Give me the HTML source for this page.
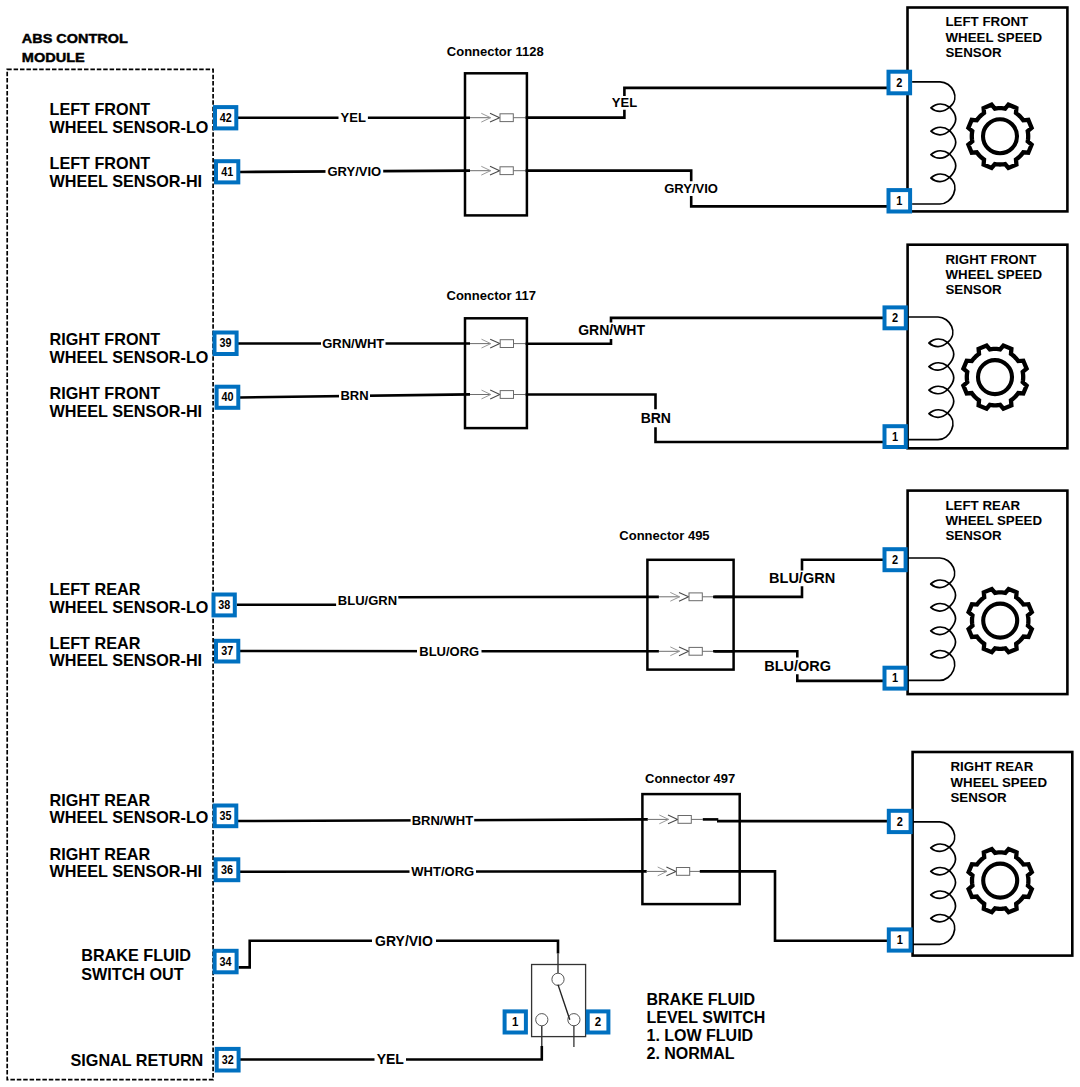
<!DOCTYPE html>
<html><head><meta charset="utf-8"><title>ABS Wheel Speed Sensor Wiring</title>
<style>
html,body{margin:0;padding:0;background:#fff;}
body{width:1080px;height:1087px;overflow:hidden;font-family:"Liberation Sans",sans-serif;}
svg{display:block;}
text{fill:#000;}
</style></head><body>
<svg width="1080" height="1087" viewBox="0 0 1080 1087" font-family="Liberation Sans, sans-serif">
<rect width="1080" height="1087" fill="#fff"/>
<text x="21.8" y="42.9" font-size="13" font-weight="bold" textLength="106" lengthAdjust="spacingAndGlyphs" stroke="#000" stroke-width="0.45">ABS CONTROL</text>
<text x="21.8" y="61.6" font-size="13" font-weight="bold" textLength="63" lengthAdjust="spacingAndGlyphs" stroke="#000" stroke-width="0.45">MODULE</text>
<rect x="7.2" y="69.4" width="205.9" height="1010.3" fill="none" stroke="#000" stroke-width="1.7" stroke-dasharray="4.5 1.9"/>
<text x="49.5" y="114.9" font-size="16.2" font-weight="bold" text-anchor="start" >LEFT FRONT</text>
<text x="49.5" y="132.8" font-size="16.2" font-weight="bold" text-anchor="start" >WHEEL SENSOR-LO</text>
<text x="49.5" y="168.9" font-size="16.2" font-weight="bold" text-anchor="start" >LEFT FRONT</text>
<text x="49.5" y="186.9" font-size="16.2" font-weight="bold" text-anchor="start" >WHEEL SENSOR-HI</text>
<text x="49.5" y="345" font-size="16.2" font-weight="bold" text-anchor="start" >RIGHT FRONT</text>
<text x="49.5" y="362.9" font-size="16.2" font-weight="bold" text-anchor="start" >WHEEL SENSOR-LO</text>
<text x="49.5" y="399.3" font-size="16.2" font-weight="bold" text-anchor="start" >RIGHT FRONT</text>
<text x="49.5" y="417.3" font-size="16.2" font-weight="bold" text-anchor="start" >WHEEL SENSOR-HI</text>
<text x="49.5" y="594.7" font-size="16.2" font-weight="bold" text-anchor="start" >LEFT REAR</text>
<text x="49.5" y="612.5" font-size="16.2" font-weight="bold" text-anchor="start" >WHEEL SENSOR-LO</text>
<text x="49.5" y="648.8" font-size="16.2" font-weight="bold" text-anchor="start" >LEFT REAR</text>
<text x="49.5" y="666.3" font-size="16.2" font-weight="bold" text-anchor="start" >WHEEL SENSOR-HI</text>
<text x="49.5" y="805.7" font-size="16.2" font-weight="bold" text-anchor="start" >RIGHT REAR</text>
<text x="49.5" y="823.3" font-size="16.2" font-weight="bold" text-anchor="start" >WHEEL SENSOR-LO</text>
<text x="49.5" y="859.5" font-size="16.2" font-weight="bold" text-anchor="start" >RIGHT REAR</text>
<text x="49.5" y="876.8" font-size="16.2" font-weight="bold" text-anchor="start" >WHEEL SENSOR-HI</text>
<text x="81.2" y="961.3" font-size="16.2" font-weight="bold" text-anchor="start" >BRAKE FLUID</text>
<text x="81.2" y="979.6" font-size="16.2" font-weight="bold" text-anchor="start" >SWITCH OUT</text>
<text x="70.5" y="1065.7" font-size="16.2" font-weight="bold" text-anchor="start" >SIGNAL RETURN</text>
<line x1="238" y1="117.8" x2="470" y2="117.8" stroke="#000" stroke-width="2.6"/>
<rect x="338.5" y="110.8" width="29.4" height="14" fill="#fff"/>
<text x="353.2" y="122.27" font-size="13" font-weight="bold" text-anchor="middle" >YEL</text>
<line x1="240" y1="172" x2="470" y2="170.6" stroke="#000" stroke-width="2.6"/>
<rect x="325.5" y="164.3" width="57.7" height="14" fill="#fff"/>
<text x="354.35" y="175.77" font-size="13" font-weight="bold" text-anchor="middle" >GRY/VIO</text>
<rect x="465" y="73.3" width="61.9" height="142.1" fill="none" stroke="#000" stroke-width="2.5"/>
<text x="446.8" y="56.2" font-size="13" font-weight="bold" text-anchor="start" >Connector 1128</text>
<line x1="470" y1="117.7" x2="490.6" y2="117.7" stroke="#6e6e6e" stroke-width="1.0"/>
<polyline points="481.3,113.3 490.6,117.7 481.3,122.1" fill="none" stroke="#9a9a9a" stroke-width="1.0" stroke-linejoin="miter" stroke-linecap="butt"/>
<polyline points="490,113.3 499.6,117.7 490,122.1" fill="none" stroke="#4a4a4a" stroke-width="1.1" stroke-linejoin="miter" stroke-linecap="butt"/>
<rect x="500" y="113.8" width="13.3" height="7.8" fill="#fff" stroke="#6a6a6a" stroke-width="1.0"/>
<line x1="513.3" y1="117.7" x2="526.9" y2="117.7" stroke="#6e6e6e" stroke-width="1.0"/>
<line x1="470" y1="170.7" x2="490.6" y2="170.7" stroke="#6e6e6e" stroke-width="1.0"/>
<polyline points="481.3,166.3 490.6,170.7 481.3,175.1" fill="none" stroke="#9a9a9a" stroke-width="1.0" stroke-linejoin="miter" stroke-linecap="butt"/>
<polyline points="490,166.3 499.6,170.7 490,175.1" fill="none" stroke="#4a4a4a" stroke-width="1.1" stroke-linejoin="miter" stroke-linecap="butt"/>
<rect x="500" y="166.8" width="13.3" height="7.8" fill="#fff" stroke="#6a6a6a" stroke-width="1.0"/>
<line x1="513.3" y1="170.7" x2="526.9" y2="170.7" stroke="#6e6e6e" stroke-width="1.0"/>
<polyline points="526.9,117.6 624.4,117.6 624.4,111" fill="none" stroke="#000" stroke-width="2.6" stroke-linejoin="miter" stroke-linecap="square"/>
<polyline points="624.4,94.6 624.4,87.9 886.6,87.9" fill="none" stroke="#000" stroke-width="2.6" stroke-linejoin="miter" stroke-linecap="square"/>
<text x="624.5" y="107.4" font-size="13" font-weight="bold" text-anchor="middle" >YEL</text>
<polyline points="526.9,170.6 691.2,170.6 691.2,180" fill="none" stroke="#000" stroke-width="2.6" stroke-linejoin="miter" stroke-linecap="square"/>
<polyline points="691.2,197.4 691.2,206.4 886.6,206.4" fill="none" stroke="#000" stroke-width="2.6" stroke-linejoin="miter" stroke-linecap="square"/>
<text x="691.1" y="193.3" font-size="13" font-weight="bold" text-anchor="middle" >GRY/VIO</text>
<line x1="238" y1="343.5" x2="470" y2="343.5" stroke="#000" stroke-width="2.6"/>
<rect x="321" y="336.5" width="64.5" height="14" fill="#fff"/>
<text x="353.25" y="347.97" font-size="13" font-weight="bold" text-anchor="middle" >GRN/WHT</text>
<line x1="240" y1="397.5" x2="470" y2="394.4" stroke="#000" stroke-width="2.6"/>
<rect x="339" y="389" width="31" height="14" fill="#fff"/>
<text x="354.5" y="400.47" font-size="13" font-weight="bold" text-anchor="middle" >BRN</text>
<rect x="465" y="318.3" width="61.9" height="109.8" fill="none" stroke="#000" stroke-width="2.5"/>
<text x="446.5" y="299.5" font-size="13" font-weight="bold" text-anchor="start" >Connector 117</text>
<line x1="470" y1="343.6" x2="490.8" y2="343.6" stroke="#6e6e6e" stroke-width="1.0"/>
<polyline points="481.5,339.2 490.8,343.6 481.5,348" fill="none" stroke="#9a9a9a" stroke-width="1.0" stroke-linejoin="miter" stroke-linecap="butt"/>
<polyline points="490.2,339.2 499.8,343.6 490.2,348" fill="none" stroke="#4a4a4a" stroke-width="1.1" stroke-linejoin="miter" stroke-linecap="butt"/>
<rect x="500.2" y="339.7" width="13.3" height="7.8" fill="#fff" stroke="#6a6a6a" stroke-width="1.0"/>
<line x1="513.5" y1="343.6" x2="526.9" y2="343.6" stroke="#6e6e6e" stroke-width="1.0"/>
<line x1="470" y1="394.5" x2="490.8" y2="394.5" stroke="#6e6e6e" stroke-width="1.0"/>
<polyline points="481.5,390.1 490.8,394.5 481.5,398.9" fill="none" stroke="#9a9a9a" stroke-width="1.0" stroke-linejoin="miter" stroke-linecap="butt"/>
<polyline points="490.2,390.1 499.8,394.5 490.2,398.9" fill="none" stroke="#4a4a4a" stroke-width="1.1" stroke-linejoin="miter" stroke-linecap="butt"/>
<rect x="500.2" y="390.6" width="13.3" height="7.8" fill="#fff" stroke="#6a6a6a" stroke-width="1.0"/>
<line x1="513.5" y1="394.5" x2="526.9" y2="394.5" stroke="#6e6e6e" stroke-width="1.0"/>
<polyline points="526.9,343.8 611,343.8 611,340.4" fill="none" stroke="#000" stroke-width="2.6" stroke-linejoin="miter" stroke-linecap="square"/>
<polyline points="611,321.2 611,317.9 882.5,317.9" fill="none" stroke="#000" stroke-width="2.6" stroke-linejoin="miter" stroke-linecap="square"/>
<text x="611.6" y="335.4" font-size="14" font-weight="bold" text-anchor="middle" >GRN/WHT</text>
<polyline points="526.9,394.5 655.5,394.5 655.5,408" fill="none" stroke="#000" stroke-width="2.6" stroke-linejoin="miter" stroke-linecap="square"/>
<polyline points="655.5,428.5 655.5,442 882.5,442" fill="none" stroke="#000" stroke-width="2.6" stroke-linejoin="miter" stroke-linecap="square"/>
<text x="655.8" y="423" font-size="14" font-weight="bold" text-anchor="middle" >BRN</text>
<polyline points="236.8,604.7 336.1,604.7" fill="none" stroke="#000" stroke-width="2.6" stroke-linejoin="miter" stroke-linecap="butt"/>
<text x="337.8" y="605.3" font-size="13" font-weight="bold" text-anchor="start" >BLU/GRN</text>
<line x1="398.3" y1="597.2" x2="658.9" y2="596.9" stroke="#000" stroke-width="2.6"/>
<line x1="240" y1="651" x2="658.9" y2="651.3" stroke="#000" stroke-width="2.6"/>
<rect x="417" y="644.2" width="64.5" height="14" fill="#fff"/>
<text x="449.25" y="655.67" font-size="13" font-weight="bold" text-anchor="middle" >BLU/ORG</text>
<rect x="647.4" y="559.8" width="86.2" height="109.8" fill="none" stroke="#000" stroke-width="2.5"/>
<text x="619.3" y="540.2" font-size="13" font-weight="bold" text-anchor="start" >Connector 495</text>
<line x1="658.9" y1="596.8" x2="679.6" y2="596.8" stroke="#6e6e6e" stroke-width="1.0"/>
<polyline points="670.3,592.4 679.6,596.8 670.3,601.2" fill="none" stroke="#9a9a9a" stroke-width="1.0" stroke-linejoin="miter" stroke-linecap="butt"/>
<polyline points="679,592.4 688.6,596.8 679,601.2" fill="none" stroke="#4a4a4a" stroke-width="1.1" stroke-linejoin="miter" stroke-linecap="butt"/>
<rect x="689" y="592.9" width="13.3" height="7.8" fill="#fff" stroke="#6a6a6a" stroke-width="1.0"/>
<line x1="702.3" y1="596.8" x2="714.4" y2="596.8" stroke="#6e6e6e" stroke-width="1.0"/>
<line x1="658.9" y1="651.3" x2="679.6" y2="651.3" stroke="#6e6e6e" stroke-width="1.0"/>
<polyline points="670.3,646.9 679.6,651.3 670.3,655.7" fill="none" stroke="#9a9a9a" stroke-width="1.0" stroke-linejoin="miter" stroke-linecap="butt"/>
<polyline points="679,646.9 688.6,651.3 679,655.7" fill="none" stroke="#4a4a4a" stroke-width="1.1" stroke-linejoin="miter" stroke-linecap="butt"/>
<rect x="689" y="647.4" width="13.3" height="7.8" fill="#fff" stroke="#6a6a6a" stroke-width="1.0"/>
<line x1="702.3" y1="651.3" x2="714.4" y2="651.3" stroke="#6e6e6e" stroke-width="1.0"/>
<line x1="714.4" y1="596.9" x2="733.6" y2="596.9" stroke="#000" stroke-width="2.6"/>
<line x1="714.4" y1="651.3" x2="733.6" y2="651.3" stroke="#000" stroke-width="2.6"/>
<polyline points="714.4,596.9 802,596.9 802,587.6" fill="none" stroke="#000" stroke-width="2.6" stroke-linejoin="miter" stroke-linecap="square"/>
<polyline points="802,569.3 802,559.7 882.5,559.7" fill="none" stroke="#000" stroke-width="2.6" stroke-linejoin="miter" stroke-linecap="square"/>
<text x="802.1" y="583.2" font-size="14.5" font-weight="bold" text-anchor="middle" >BLU/GRN</text>
<polyline points="714.4,651.3 797.3,651.3 797.3,656.2" fill="none" stroke="#000" stroke-width="2.6" stroke-linejoin="miter" stroke-linecap="square"/>
<polyline points="797.3,675.5 797.3,680.9 882.5,680.9" fill="none" stroke="#000" stroke-width="2.6" stroke-linejoin="miter" stroke-linecap="square"/>
<text x="797.6" y="670.8" font-size="14.5" font-weight="bold" text-anchor="middle" >BLU/ORG</text>
<line x1="238" y1="821" x2="647.8" y2="819.4" stroke="#000" stroke-width="2.6"/>
<rect x="410.6" y="813.6" width="63.6" height="14" fill="#fff"/>
<text x="442.4" y="825.07" font-size="13" font-weight="bold" text-anchor="middle" >BRN/WHT</text>
<line x1="240" y1="871.7" x2="646.7" y2="871.4" stroke="#000" stroke-width="2.6"/>
<rect x="409.5" y="864.6" width="66.5" height="14" fill="#fff"/>
<text x="442.75" y="876.07" font-size="13" font-weight="bold" text-anchor="middle" >WHT/ORG</text>
<rect x="642.4" y="794.1" width="97.3" height="110" fill="none" stroke="#000" stroke-width="2.5"/>
<text x="645" y="783.4" font-size="13" font-weight="bold" text-anchor="start" >Connector 497</text>
<line x1="647.8" y1="819.4" x2="668.6" y2="819.4" stroke="#6e6e6e" stroke-width="1.0"/>
<polyline points="659.3,815 668.6,819.4 659.3,823.8" fill="none" stroke="#9a9a9a" stroke-width="1.0" stroke-linejoin="miter" stroke-linecap="butt"/>
<polyline points="668,815 677.6,819.4 668,823.8" fill="none" stroke="#4a4a4a" stroke-width="1.1" stroke-linejoin="miter" stroke-linecap="butt"/>
<rect x="678" y="815.5" width="13.3" height="7.8" fill="#fff" stroke="#6a6a6a" stroke-width="1.0"/>
<line x1="691.3" y1="819.4" x2="702.8" y2="819.4" stroke="#6e6e6e" stroke-width="1.0"/>
<line x1="646.7" y1="871.4" x2="667" y2="871.4" stroke="#6e6e6e" stroke-width="1.0"/>
<polyline points="657.7,867 667,871.4 657.7,875.8" fill="none" stroke="#9a9a9a" stroke-width="1.0" stroke-linejoin="miter" stroke-linecap="butt"/>
<polyline points="666.4,867 676,871.4 666.4,875.8" fill="none" stroke="#4a4a4a" stroke-width="1.1" stroke-linejoin="miter" stroke-linecap="butt"/>
<rect x="676.4" y="867.5" width="13.3" height="7.8" fill="#fff" stroke="#6a6a6a" stroke-width="1.0"/>
<line x1="689.7" y1="871.4" x2="701.1" y2="871.4" stroke="#6e6e6e" stroke-width="1.0"/>
<line x1="702.8" y1="819.4" x2="718.3" y2="819.4" stroke="#000" stroke-width="2.6"/>
<line x1="717" y1="821.1" x2="887.7" y2="821.1" stroke="#000" stroke-width="2.6"/>
<polyline points="701.1,871.4 775,871.4 775,940.7 887.7,940.7" fill="none" stroke="#000" stroke-width="2.6" stroke-linejoin="miter" stroke-linecap="square"/>
<polyline points="238.6,967.4 249.7,967.4 249.7,940.7 558,940.7 558,953.5" fill="none" stroke="#000" stroke-width="2.6" stroke-linejoin="miter" stroke-linecap="butt"/>
<rect x="372" y="933.7" width="64" height="14" fill="#fff"/>
<text x="404" y="945.52" font-size="14" font-weight="bold" text-anchor="middle" >GRY/VIO</text>
<line x1="558" y1="953.5" x2="558" y2="973.2" stroke="#222" stroke-width="1.3"/>
<polyline points="240,1059.5 541.8,1059.5 541.8,1046" fill="none" stroke="#000" stroke-width="2.6" stroke-linejoin="miter" stroke-linecap="butt"/>
<rect x="374.5" y="1052.5" width="31.5" height="14" fill="#fff"/>
<text x="390.25" y="1064.32" font-size="14" font-weight="bold" text-anchor="middle" >YEL</text>
<line x1="541.8" y1="1046" x2="541.8" y2="1026" stroke="#222" stroke-width="1.3"/>
<rect x="531.6" y="964.5" width="54" height="72.1" fill="none" stroke="#333" stroke-width="1.3"/>
<circle cx="558" cy="979.3" r="6.1" fill="#fff" stroke="#555" stroke-width="1.0"/>
<circle cx="541.8" cy="1019.7" r="6.1" fill="#fff" stroke="#555" stroke-width="1.0"/>
<circle cx="573.9" cy="1019.7" r="6.1" fill="#fff" stroke="#555" stroke-width="1.0"/>
<line x1="558" y1="984.6" x2="569.8" y2="1019.7" stroke="#222" stroke-width="1.4"/>
<line x1="573.9" y1="1025.8" x2="573.9" y2="1047" stroke="#333" stroke-width="1.3"/>
<text x="646.5" y="1004.7" font-size="16" font-weight="bold" text-anchor="start" >BRAKE FLUID</text>
<text x="646.5" y="1022.9" font-size="16" font-weight="bold" text-anchor="start" >LEVEL SWITCH</text>
<text x="646.5" y="1041.1" font-size="16" font-weight="bold" text-anchor="start" >1. LOW FLUID</text>
<text x="646.5" y="1059.3" font-size="16" font-weight="bold" text-anchor="start" >2. NORMAL</text>
<rect x="907.5" y="7.5" width="159.9" height="203.9" fill="none" stroke="#000" stroke-width="2.6"/>
<text x="945.5" y="26.4" font-size="13.3" font-weight="bold" text-anchor="start" >LEFT FRONT</text>
<text x="945.5" y="41.6" font-size="13.3" font-weight="bold" text-anchor="start" >WHEEL SPEED</text>
<text x="945.5" y="56.8" font-size="13.3" font-weight="bold" text-anchor="start" >SENSOR</text>
<path d="M912.10,81.80 L940.00,81.80 C952.00,81.80 961.10,98.20 949.60,107.20 C943.60,112.60 936.50,112.80 930.90,107.80 C936.50,102.90 943.60,102.80 949.60,107.20 C957.80,115.70 957.80,122.10 949.60,130.60 C943.60,136.00 936.50,136.20 930.90,131.20 C936.50,126.30 943.60,126.20 949.60,130.60 C957.80,139.10 957.80,145.50 949.60,154.00 C943.60,159.40 936.50,159.60 930.90,154.60 C936.50,149.70 943.60,149.60 949.60,154.00 C957.80,162.50 957.80,168.90 949.60,177.40 C943.60,182.80 936.50,183.00 930.90,178.00 C936.50,173.10 943.60,173.00 949.60,177.40 C961.10,186.40 952.00,204.00 940.00,204.00 L912.10,204.00" fill="none" stroke="#000" stroke-width="1.7" stroke-linejoin="round"/>
<path d="M1005.14,108.57 L1008.41,104.70 L1016.40,108.01 L1015.97,113.06 L1017.36,114.08 L1018.69,115.18 L1019.94,116.36 L1021.12,117.61 L1022.22,118.94 L1023.24,120.33 L1028.29,119.90 L1031.60,127.89 L1027.73,131.16 L1027.99,132.86 L1028.15,134.58 L1028.20,136.30 L1028.15,138.02 L1027.99,139.74 L1027.73,141.44 L1031.60,144.71 L1028.29,152.70 L1023.24,152.27 L1022.22,153.66 L1021.12,154.99 L1019.94,156.24 L1018.69,157.42 L1017.36,158.52 L1015.97,159.54 L1016.40,164.59 L1008.41,167.90 L1005.14,164.03 L1003.44,164.29 L1001.72,164.45 L1000.00,164.50 L998.28,164.45 L996.56,164.29 L994.86,164.03 L991.59,167.90 L983.60,164.59 L984.03,159.54 L982.64,158.52 L981.31,157.42 L980.06,156.24 L978.88,154.99 L977.78,153.66 L976.76,152.27 L971.71,152.70 L968.40,144.71 L972.27,141.44 L972.01,139.74 L971.85,138.02 L971.80,136.30 L971.85,134.58 L972.01,132.86 L972.27,131.16 L968.40,127.89 L971.71,119.90 L976.76,120.33 L977.78,118.94 L978.88,117.61 L980.06,116.36 L981.31,115.18 L982.64,114.08 L984.03,113.06 L983.60,108.01 L991.59,104.70 L994.86,108.57 L996.56,108.31 L998.28,108.15 L1000.00,108.10 L1001.72,108.15 L1003.44,108.31Z" fill="none" stroke="#000" stroke-width="4.3" stroke-linejoin="miter"/>
<circle cx="1000" cy="136.3" r="17" fill="none" stroke="#000" stroke-width="4.1"/>
<rect x="888.5" y="71.7" width="21.6" height="21.6" fill="#fff" stroke="#0070C0" stroke-width="4.0"/>
<text transform="translate(899.3 86.66) scale(1.0 1.1)" font-size="11" font-weight="bold" text-anchor="middle" >2</text>
<rect x="888.5" y="190.1" width="21.6" height="21.4" fill="#fff" stroke="#0070C0" stroke-width="4.0"/>
<text transform="translate(899.3 204.96) scale(1.0 1.1)" font-size="11" font-weight="bold" text-anchor="middle" >1</text>
<rect x="907.6" y="244.7" width="159.8" height="203.6" fill="none" stroke="#000" stroke-width="2.6"/>
<text x="945.5" y="263.7" font-size="13.3" font-weight="bold" text-anchor="start" >RIGHT FRONT</text>
<text x="945.5" y="278.9" font-size="13.3" font-weight="bold" text-anchor="start" >WHEEL SPEED</text>
<text x="945.5" y="294.1" font-size="13.3" font-weight="bold" text-anchor="start" >SENSOR</text>
<path d="M908.30,317.00 L938.00,317.00 C950.00,317.00 959.10,333.40 947.60,342.40 C941.60,347.80 934.50,348.00 928.90,343.00 C934.50,338.10 941.60,338.00 947.60,342.40 C955.80,350.90 955.80,357.47 947.60,365.97 C941.60,371.37 934.50,371.57 928.90,366.57 C934.50,361.67 941.60,361.57 947.60,365.97 C955.80,374.47 955.80,381.03 947.60,389.53 C941.60,394.93 934.50,395.13 928.90,390.13 C934.50,385.23 941.60,385.13 947.60,389.53 C955.80,398.03 955.80,404.60 947.60,413.10 C941.60,418.50 934.50,418.70 928.90,413.70 C934.50,408.80 941.60,408.70 947.60,413.10 C959.10,422.10 950.00,439.70 938.00,439.70 L908.30,439.70" fill="none" stroke="#000" stroke-width="1.7" stroke-linejoin="round"/>
<path d="M1000.14,349.37 L1003.41,345.50 L1011.40,348.81 L1010.97,353.86 L1012.36,354.88 L1013.69,355.98 L1014.94,357.16 L1016.12,358.41 L1017.22,359.74 L1018.24,361.13 L1023.29,360.70 L1026.60,368.69 L1022.73,371.96 L1022.99,373.66 L1023.15,375.38 L1023.20,377.10 L1023.15,378.82 L1022.99,380.54 L1022.73,382.24 L1026.60,385.51 L1023.29,393.50 L1018.24,393.07 L1017.22,394.46 L1016.12,395.79 L1014.94,397.04 L1013.69,398.22 L1012.36,399.32 L1010.97,400.34 L1011.40,405.39 L1003.41,408.70 L1000.14,404.83 L998.44,405.09 L996.72,405.25 L995.00,405.30 L993.28,405.25 L991.56,405.09 L989.86,404.83 L986.59,408.70 L978.60,405.39 L979.03,400.34 L977.64,399.32 L976.31,398.22 L975.06,397.04 L973.88,395.79 L972.78,394.46 L971.76,393.07 L966.71,393.50 L963.40,385.51 L967.27,382.24 L967.01,380.54 L966.85,378.82 L966.80,377.10 L966.85,375.38 L967.01,373.66 L967.27,371.96 L963.40,368.69 L966.71,360.70 L971.76,361.13 L972.78,359.74 L973.88,358.41 L975.06,357.16 L976.31,355.98 L977.64,354.88 L979.03,353.86 L978.60,348.81 L986.59,345.50 L989.86,349.37 L991.56,349.11 L993.28,348.95 L995.00,348.90 L996.72,348.95 L998.44,349.11Z" fill="none" stroke="#000" stroke-width="4.3" stroke-linejoin="miter"/>
<circle cx="995" cy="377.1" r="17" fill="none" stroke="#000" stroke-width="4.1"/>
<rect x="884.5" y="307.4" width="21.3" height="20.9" fill="#fff" stroke="#0070C0" stroke-width="4.0"/>
<text transform="translate(895.15 322.01) scale(1.0 1.1)" font-size="11" font-weight="bold" text-anchor="middle" >2</text>
<rect x="884.5" y="426.2" width="21.3" height="20.8" fill="#fff" stroke="#0070C0" stroke-width="4.0"/>
<text transform="translate(895.15 440.76) scale(1.0 1.1)" font-size="11" font-weight="bold" text-anchor="middle" >1</text>
<rect x="907.6" y="490.6" width="159.8" height="203.5" fill="none" stroke="#000" stroke-width="2.6"/>
<text x="945.5" y="509.7" font-size="13.3" font-weight="bold" text-anchor="start" >LEFT REAR</text>
<text x="945.5" y="524.9" font-size="13.3" font-weight="bold" text-anchor="start" >WHEEL SPEED</text>
<text x="945.5" y="540.1" font-size="13.3" font-weight="bold" text-anchor="start" >SENSOR</text>
<path d="M907.60,558.00 L939.80,558.00 C951.80,558.00 960.90,574.40 949.40,583.40 C943.40,588.80 936.30,589.00 930.70,584.00 C936.30,579.10 943.40,579.00 949.40,583.40 C957.60,591.90 957.60,598.37 949.40,606.87 C943.40,612.27 936.30,612.47 930.70,607.47 C936.30,602.57 943.40,602.47 949.40,606.87 C957.60,615.37 957.60,621.83 949.40,630.33 C943.40,635.73 936.30,635.93 930.70,630.93 C936.30,626.03 943.40,625.93 949.40,630.33 C957.60,638.83 957.60,645.30 949.40,653.80 C943.40,659.20 936.30,659.40 930.70,654.40 C936.30,649.50 943.40,649.40 949.40,653.80 C960.90,662.80 951.80,680.40 939.80,680.40 L907.60,680.40" fill="none" stroke="#000" stroke-width="1.7" stroke-linejoin="round"/>
<path d="M1005.34,592.87 L1008.61,589.00 L1016.60,592.31 L1016.17,597.36 L1017.56,598.38 L1018.89,599.48 L1020.14,600.66 L1021.32,601.91 L1022.42,603.24 L1023.44,604.63 L1028.49,604.20 L1031.80,612.19 L1027.93,615.46 L1028.19,617.16 L1028.35,618.88 L1028.40,620.60 L1028.35,622.32 L1028.19,624.04 L1027.93,625.74 L1031.80,629.01 L1028.49,637.00 L1023.44,636.57 L1022.42,637.96 L1021.32,639.29 L1020.14,640.54 L1018.89,641.72 L1017.56,642.82 L1016.17,643.84 L1016.60,648.89 L1008.61,652.20 L1005.34,648.33 L1003.64,648.59 L1001.92,648.75 L1000.20,648.80 L998.48,648.75 L996.76,648.59 L995.06,648.33 L991.79,652.20 L983.80,648.89 L984.23,643.84 L982.84,642.82 L981.51,641.72 L980.26,640.54 L979.08,639.29 L977.98,637.96 L976.96,636.57 L971.91,637.00 L968.60,629.01 L972.47,625.74 L972.21,624.04 L972.05,622.32 L972.00,620.60 L972.05,618.88 L972.21,617.16 L972.47,615.46 L968.60,612.19 L971.91,604.20 L976.96,604.63 L977.98,603.24 L979.08,601.91 L980.26,600.66 L981.51,599.48 L982.84,598.38 L984.23,597.36 L983.80,592.31 L991.79,589.00 L995.06,592.87 L996.76,592.61 L998.48,592.45 L1000.20,592.40 L1001.92,592.45 L1003.64,592.61Z" fill="none" stroke="#000" stroke-width="4.3" stroke-linejoin="miter"/>
<circle cx="1000.2" cy="620.6" r="17" fill="none" stroke="#000" stroke-width="4.1"/>
<rect x="884.5" y="549.2" width="21.1" height="21" fill="#fff" stroke="#0070C0" stroke-width="4.0"/>
<text transform="translate(895.05 563.86) scale(1.0 1.1)" font-size="11" font-weight="bold" text-anchor="middle" >2</text>
<rect x="884.5" y="667.7" width="21.1" height="20.9" fill="#fff" stroke="#0070C0" stroke-width="4.0"/>
<text transform="translate(895.05 682.31) scale(1.0 1.1)" font-size="11" font-weight="bold" text-anchor="middle" >1</text>
<rect x="912.6" y="752" width="159.7" height="203.6" fill="none" stroke="#000" stroke-width="2.6"/>
<text x="950.5" y="771.4" font-size="13.3" font-weight="bold" text-anchor="start" >RIGHT REAR</text>
<text x="950.5" y="786.6" font-size="13.3" font-weight="bold" text-anchor="start" >WHEEL SPEED</text>
<text x="950.5" y="801.8" font-size="13.3" font-weight="bold" text-anchor="start" >SENSOR</text>
<path d="M912.60,821.80 L939.80,821.80 C951.80,821.80 960.90,838.20 949.40,847.20 C943.40,852.60 936.30,852.80 930.70,847.80 C936.30,842.90 943.40,842.80 949.40,847.20 C957.60,855.70 957.60,862.20 949.40,870.70 C943.40,876.10 936.30,876.30 930.70,871.30 C936.30,866.40 943.40,866.30 949.40,870.70 C957.60,879.20 957.60,885.70 949.40,894.20 C943.40,899.60 936.30,899.80 930.70,894.80 C936.30,889.90 943.40,889.80 949.40,894.20 C957.60,902.70 957.60,909.20 949.40,917.70 C943.40,923.10 936.30,923.30 930.70,918.30 C936.30,913.40 943.40,913.30 949.40,917.70 C960.90,926.70 951.80,944.30 939.80,944.30 L912.60,944.30" fill="none" stroke="#000" stroke-width="1.7" stroke-linejoin="round"/>
<path d="M1005.34,852.87 L1008.61,849.00 L1016.60,852.31 L1016.17,857.36 L1017.56,858.38 L1018.89,859.48 L1020.14,860.66 L1021.32,861.91 L1022.42,863.24 L1023.44,864.63 L1028.49,864.20 L1031.80,872.19 L1027.93,875.46 L1028.19,877.16 L1028.35,878.88 L1028.40,880.60 L1028.35,882.32 L1028.19,884.04 L1027.93,885.74 L1031.80,889.01 L1028.49,897.00 L1023.44,896.57 L1022.42,897.96 L1021.32,899.29 L1020.14,900.54 L1018.89,901.72 L1017.56,902.82 L1016.17,903.84 L1016.60,908.89 L1008.61,912.20 L1005.34,908.33 L1003.64,908.59 L1001.92,908.75 L1000.20,908.80 L998.48,908.75 L996.76,908.59 L995.06,908.33 L991.79,912.20 L983.80,908.89 L984.23,903.84 L982.84,902.82 L981.51,901.72 L980.26,900.54 L979.08,899.29 L977.98,897.96 L976.96,896.57 L971.91,897.00 L968.60,889.01 L972.47,885.74 L972.21,884.04 L972.05,882.32 L972.00,880.60 L972.05,878.88 L972.21,877.16 L972.47,875.46 L968.60,872.19 L971.91,864.20 L976.96,864.63 L977.98,863.24 L979.08,861.91 L980.26,860.66 L981.51,859.48 L982.84,858.38 L984.23,857.36 L983.80,852.31 L991.79,849.00 L995.06,852.87 L996.76,852.61 L998.48,852.45 L1000.20,852.40 L1001.92,852.45 L1003.64,852.61Z" fill="none" stroke="#000" stroke-width="4.3" stroke-linejoin="miter"/>
<circle cx="1000.2" cy="880.6" r="17" fill="none" stroke="#000" stroke-width="4.1"/>
<rect x="888.8" y="810.8" width="21.8" height="21.3" fill="#fff" stroke="#0070C0" stroke-width="4.0"/>
<text transform="translate(899.7 825.61) scale(1.0 1.1)" font-size="11" font-weight="bold" text-anchor="middle" >2</text>
<rect x="888.8" y="929.4" width="21.8" height="21.2" fill="#fff" stroke="#0070C0" stroke-width="4.0"/>
<text transform="translate(899.7 944.16) scale(1.0 1.1)" font-size="11" font-weight="bold" text-anchor="middle" >1</text>
<rect x="215" y="107.1" width="21.3" height="21.3" fill="#fff" stroke="#0070C0" stroke-width="4.0"/>
<text transform="translate(225.65 121.84) scale(1.0 1.1)" font-size="10.8" font-weight="bold" text-anchor="middle" >42</text>
<rect x="216" y="161.2" width="22.3" height="21.2" fill="#fff" stroke="#0070C0" stroke-width="4.0"/>
<text transform="translate(227.15 175.89) scale(1.0 1.1)" font-size="10.8" font-weight="bold" text-anchor="middle" >41</text>
<rect x="214.5" y="332.5" width="22.1" height="21.5" fill="#fff" stroke="#0070C0" stroke-width="4.0"/>
<text transform="translate(225.55 347.34) scale(1.0 1.1)" font-size="10.8" font-weight="bold" text-anchor="middle" >39</text>
<rect x="216.6" y="386.7" width="21.7" height="21.1" fill="#fff" stroke="#0070C0" stroke-width="4.0"/>
<text transform="translate(227.45 401.34) scale(1.0 1.1)" font-size="10.8" font-weight="bold" text-anchor="middle" >40</text>
<rect x="213.5" y="594.5" width="21.3" height="20.9" fill="#fff" stroke="#0070C0" stroke-width="4.0"/>
<text transform="translate(224.15 609.04) scale(1.0 1.1)" font-size="10.8" font-weight="bold" text-anchor="middle" >38</text>
<rect x="216" y="640.8" width="22.3" height="20.7" fill="#fff" stroke="#0070C0" stroke-width="4.0"/>
<text transform="translate(227.15 655.24) scale(1.0 1.1)" font-size="10.8" font-weight="bold" text-anchor="middle" >37</text>
<rect x="214.7" y="805.5" width="21.6" height="20.7" fill="#fff" stroke="#0070C0" stroke-width="4.0"/>
<text transform="translate(225.5 819.94) scale(1.0 1.1)" font-size="10.8" font-weight="bold" text-anchor="middle" >35</text>
<rect x="215.6" y="859.3" width="22.7" height="20.9" fill="#fff" stroke="#0070C0" stroke-width="4.0"/>
<text transform="translate(226.95 873.84) scale(1.0 1.1)" font-size="10.8" font-weight="bold" text-anchor="middle" >36</text>
<rect x="214.6" y="950.8" width="22" height="21.5" fill="#fff" stroke="#0070C0" stroke-width="4.0"/>
<text transform="translate(225.6 965.64) scale(1.0 1.1)" font-size="10.8" font-weight="bold" text-anchor="middle" >34</text>
<rect x="216.7" y="1048.9" width="21.9" height="21.6" fill="#fff" stroke="#0070C0" stroke-width="4.0"/>
<text transform="translate(227.65 1063.79) scale(1.0 1.1)" font-size="10.8" font-weight="bold" text-anchor="middle" >32</text>
<rect x="504.6" y="1011.4" width="21.3" height="21.1" fill="#fff" stroke="#0070C0" stroke-width="4.0"/>
<text transform="translate(515.25 1026.3) scale(1.0 1.1)" font-size="11.5" font-weight="bold" text-anchor="middle" >1</text>
<rect x="587.7" y="1011.4" width="20.7" height="21.1" fill="#fff" stroke="#0070C0" stroke-width="4.0"/>
<text transform="translate(598.05 1026.3) scale(1.0 1.1)" font-size="11.5" font-weight="bold" text-anchor="middle" >2</text>
</svg>
</body></html>
